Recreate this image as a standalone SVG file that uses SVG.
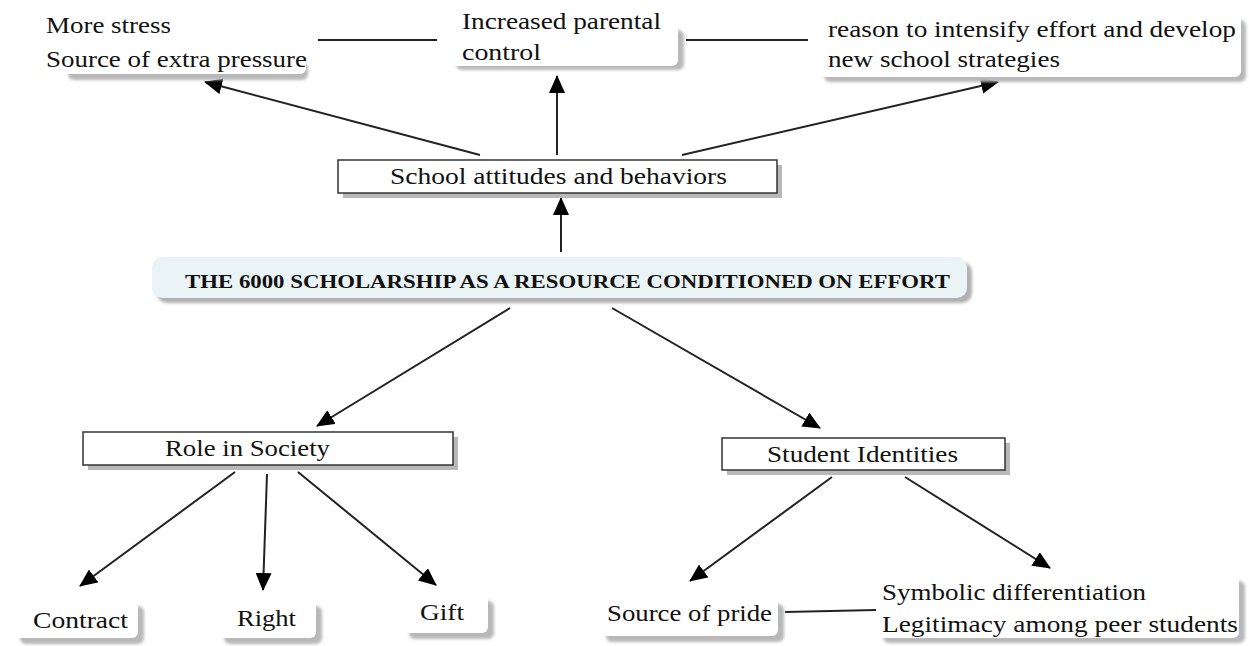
<svg xmlns="http://www.w3.org/2000/svg" width="1249" height="646" viewBox="0 0 1249 646">
<style>
.t{font-family:"Liberation Serif","Times New Roman",serif;font-size:23px;fill:#111}
.h{font-family:"Liberation Serif","Times New Roman",serif;font-size:18px;font-weight:bold;fill:#111}
.box{fill:#fff;stroke:#333;stroke-width:1.5}
.sh{fill:#b8b8b8}
.wb{fill:#fff}
.c{stroke:#222;stroke-width:2;fill:none}
.a{stroke:#222;stroke-width:2;fill:none;marker-end:url(#arr)}
</style>
<defs>
<marker id="arr" markerWidth="18" markerHeight="16" refX="17" refY="8" orient="auto" markerUnits="userSpaceOnUse" viewBox="0 0 18 16">
<path d="M0,0 L18,8 L0,16 z" fill="#000"/>
</marker>
<filter id="blur" x="-10%" y="-20%" width="120%" height="140%"><feGaussianBlur stdDeviation="1.5"/></filter>
</defs>
<g id="connectors">
<line class="c" x1="318" y1="40" x2="437" y2="40"/>
<line class="c" x1="686" y1="40" x2="808" y2="40"/>
<line class="c" x1="785" y1="612" x2="876" y2="610"/>
<line class="a" x1="480" y1="155" x2="205" y2="82"/>
<line class="a" x1="557" y1="155" x2="557" y2="76"/>
<line class="a" x1="682" y1="155" x2="998" y2="82"/>
<line class="a" x1="561" y1="252" x2="561" y2="198"/>
<line class="a" x1="510" y1="308" x2="317" y2="426"/>
<line class="a" x1="612" y1="308" x2="820" y2="428"/>
<line class="a" x1="235" y1="472" x2="80" y2="586"/>
<line class="a" x1="267" y1="474" x2="263" y2="590"/>
<line class="a" x1="298" y1="472" x2="436" y2="585"/>
<line class="a" x1="832" y1="477" x2="690" y2="581"/>
<line class="a" x1="905" y1="477" x2="1050" y2="568"/>
</g>
<g id="n-stress">
<rect class="sh" x="68" y="62" width="240" height="18" rx="6" filter="url(#blur)"/>
<rect class="wb" x="44" y="10" width="262" height="64" rx="6"/>
<text class="t" x="46" y="33" textLength="125" lengthAdjust="spacingAndGlyphs">More stress</text>
<text class="t" x="46" y="67" textLength="261" lengthAdjust="spacingAndGlyphs">Source of extra pressure</text>
</g>
<g id="n-parental">
<rect class="sh" x="456" y="30" width="228" height="40" rx="6" filter="url(#blur)"/>
<rect class="wb" x="450" y="8" width="228" height="58" rx="6"/>
<text class="t" x="462" y="29" textLength="199" lengthAdjust="spacingAndGlyphs">Increased parental</text>
<text class="t" x="462" y="60" textLength="79" lengthAdjust="spacingAndGlyphs">control</text>
</g>
<g id="n-reason">
<rect class="sh" x="824" y="20" width="422" height="62" rx="6" filter="url(#blur)"/>
<rect class="wb" x="820" y="14" width="421" height="63" rx="6"/>
<text class="t" x="828" y="37" textLength="408" lengthAdjust="spacingAndGlyphs">reason to intensify effort and develop</text>
<text class="t" x="828" y="67" textLength="232" lengthAdjust="spacingAndGlyphs">new school strategies</text>
</g>
<g id="n-school">
<rect class="sh" x="343" y="165" width="439" height="33"/>
<rect class="box" x="338" y="160" width="439" height="33"/>
<text class="t" x="390" y="184" textLength="337" lengthAdjust="spacingAndGlyphs">School attitudes and behaviors</text>
</g>
<g id="n-main">
<rect x="157" y="262" width="815" height="41" rx="10" fill="#b0b0b0" filter="url(#blur)"/>
<rect x="152" y="257" width="815" height="41" rx="10" fill="#eaf3f6"/>
<text class="h" x="185" y="288" textLength="765" lengthAdjust="spacingAndGlyphs">THE 6000 SCHOLARSHIP AS A RESOURCE CONDITIONED ON EFFORT</text>
</g>
<g id="n-role">
<rect class="sh" x="88" y="437" width="370" height="33"/>
<rect class="box" x="83" y="432" width="370" height="33"/>
<text class="t" x="165" y="456" textLength="165" lengthAdjust="spacingAndGlyphs">Role in Society</text>
</g>
<g id="n-student">
<rect class="sh" x="727" y="443" width="283" height="32"/>
<rect class="box" x="722" y="438" width="283" height="32"/>
<text class="t" x="767" y="462" textLength="191" lengthAdjust="spacingAndGlyphs">Student Identities</text>
</g>
<g id="n-contract">
<rect class="sh" x="20" y="606" width="124" height="38" rx="6" filter="url(#blur)"/>
<rect class="wb" x="14" y="600" width="124" height="38" rx="6"/>
<text class="t" x="33" y="628" textLength="95" lengthAdjust="spacingAndGlyphs">Contract</text>
</g>
<g id="n-right">
<rect class="sh" x="224" y="606" width="98" height="38" rx="6" filter="url(#blur)"/>
<rect class="wb" x="218" y="600" width="98" height="38" rx="6"/>
<text class="t" x="237" y="626" textLength="59" lengthAdjust="spacingAndGlyphs">Right</text>
</g>
<g id="n-gift">
<rect class="sh" x="409" y="601" width="85" height="38" rx="6" filter="url(#blur)"/>
<rect class="wb" x="403" y="595" width="85" height="38" rx="6"/>
<text class="t" x="420" y="620" textLength="44" lengthAdjust="spacingAndGlyphs">Gift</text>
</g>
<g id="n-pride">
<rect class="sh" x="606" y="604" width="178" height="38" rx="6" filter="url(#blur)"/>
<rect class="wb" x="600" y="598" width="178" height="38" rx="6"/>
<text class="t" x="607" y="621" textLength="165" lengthAdjust="spacingAndGlyphs">Source of pride</text>
</g>
<g id="n-symbolic">
<rect class="sh" x="883" y="581" width="362" height="62" rx="6" filter="url(#blur)"/>
<rect class="wb" x="877" y="575" width="362" height="63" rx="6"/>
<text class="t" x="882" y="600" textLength="264" lengthAdjust="spacingAndGlyphs">Symbolic differentiation</text>
<text class="t" x="882" y="632" textLength="356" lengthAdjust="spacingAndGlyphs">Legitimacy among peer students</text>
</g>
</svg>
